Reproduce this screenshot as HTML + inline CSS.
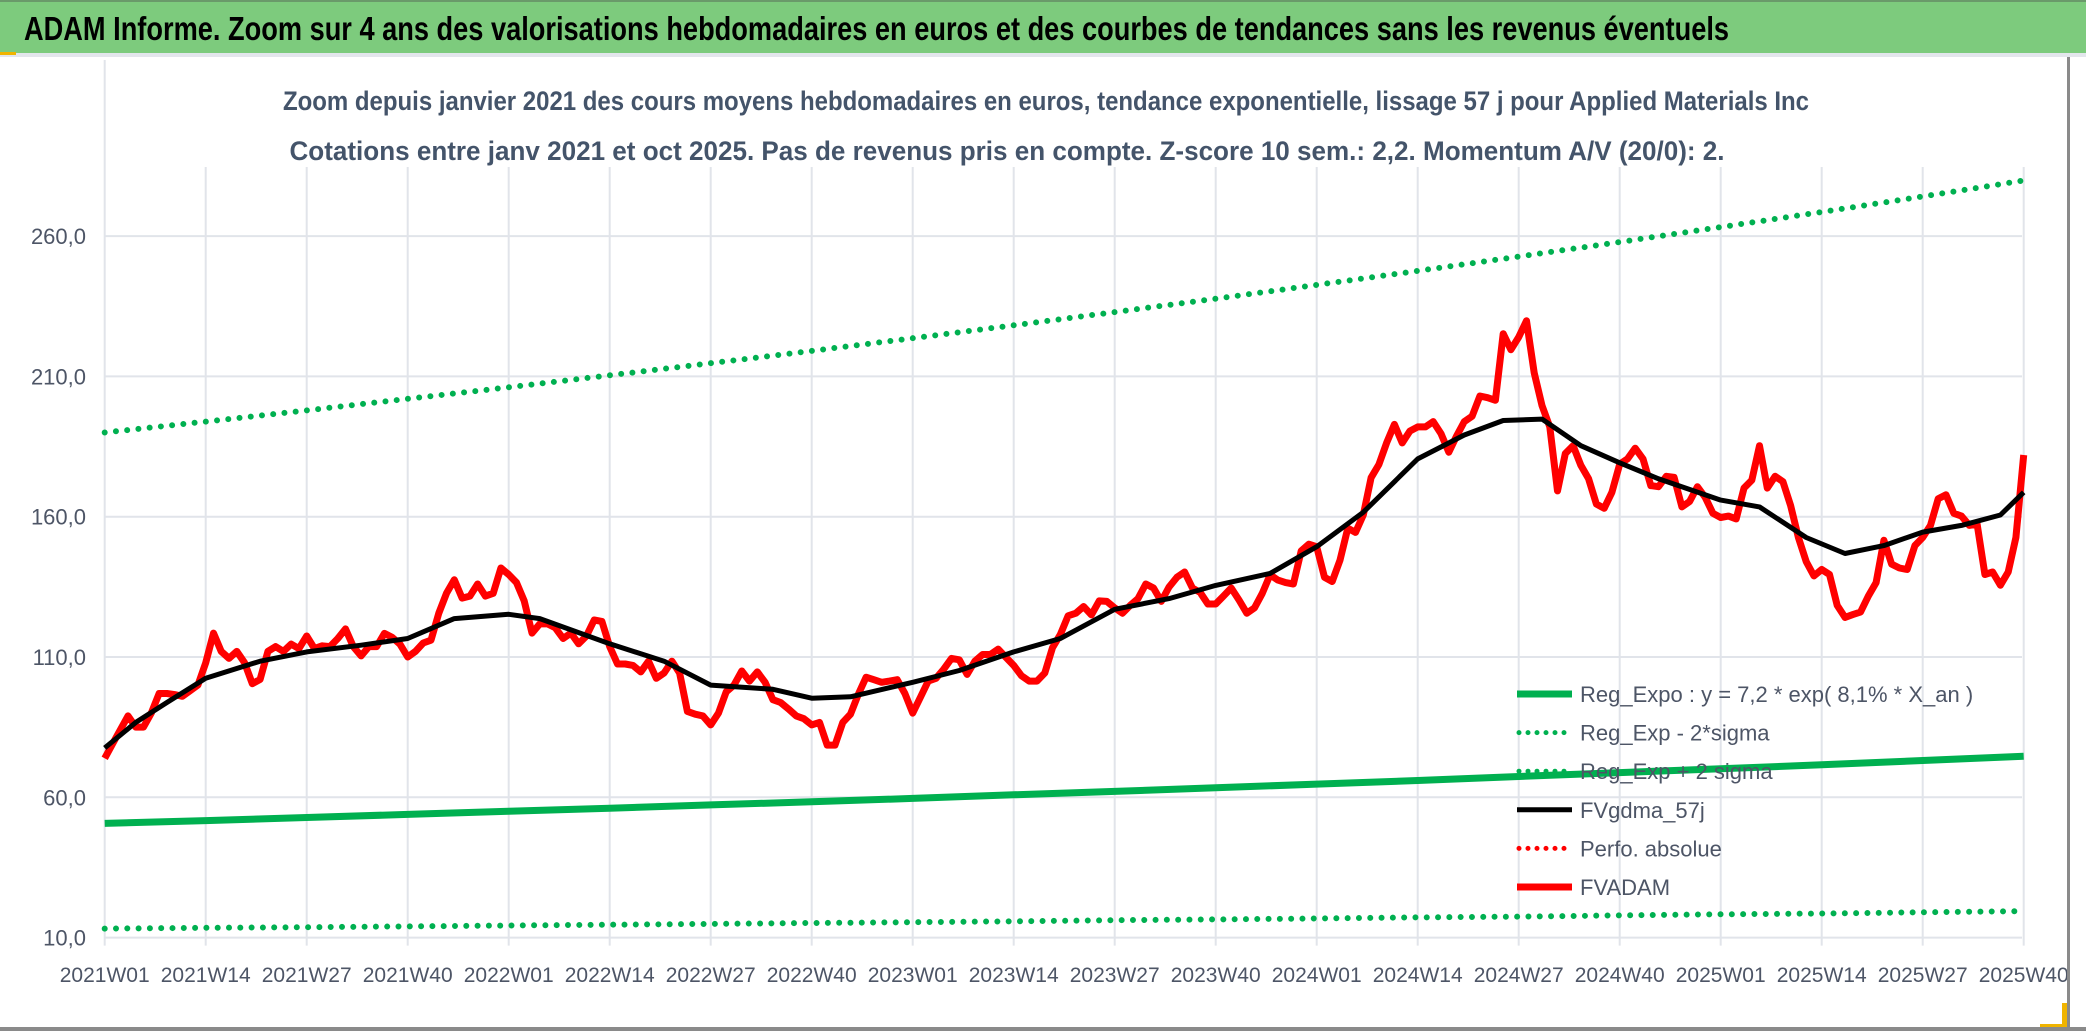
<!DOCTYPE html>
<html><head><meta charset="utf-8"><style>
html,body{margin:0;padding:0;background:#fff;}
body{width:2086px;height:1031px;overflow:hidden;position:relative;font-family:"Liberation Sans",sans-serif;}
svg{position:absolute;left:0;top:0;}
</style></head><body>
<svg id="chart" width="2086" height="1031" xmlns="http://www.w3.org/2000/svg">
<rect x="0" y="0" width="2086" height="1031" fill="#fff"/>
<rect x="0" y="0" width="2086" height="53" fill="#7dcb7d"/>
<rect x="0" y="0" width="2086" height="2" fill="#6a9a6a"/>
<rect x="0" y="53" width="2086" height="4" fill="#e3e6ec"/>
<rect x="0" y="52" width="16" height="3" fill="#f0b400"/>
<text x="24" y="40" font-size="33" font-weight="bold" fill="#000" textLength="1705" lengthAdjust="spacingAndGlyphs">ADAM Informe. Zoom sur 4 ans des valorisations hebdomadaires en euros et des courbes de tendances sans les revenus éventuels</text>
<text x="1046" y="110" text-anchor="middle" font-size="27" font-weight="bold" fill="#44546a" textLength="1526" lengthAdjust="spacingAndGlyphs">Zoom depuis janvier 2021 des cours moyens hebdomadaires en euros, tendance exponentielle, lissage 57 j pour Applied Materials Inc</text>
<text x="1007" y="160" text-anchor="middle" font-size="27" font-weight="bold" fill="#44546a" textLength="1435" lengthAdjust="spacingAndGlyphs">Cotations entre janv 2021 et oct 2025. Pas de revenus pris en compte. Z-score 10 sem.: 2,2. Momentum A/V (20/0): 2.</text>
<g id="grid"></g>
<g id="series"></g>
<g id="legend"></g>
<rect x="2062" y="1003" width="5" height="24" fill="#f0b400"/>
<rect x="2040" y="1024" width="27" height="4" fill="#f0b400"/>
<rect x="0" y="1027" width="2086" height="4" fill="#8a8a8a"/>
<rect x="2067" y="57" width="3" height="972" fill="#8a8a8a"/>
</svg>
<script>
const tickLabels=["2021W01","2021W14","2021W27","2021W40","2022W01","2022W14","2022W27","2022W40","2023W01","2023W14","2023W27","2023W40","2024W01","2024W14","2024W27","2024W40","2025W01","2025W14","2025W27","2025W40"];
const yTicks=[10,60,110,160,210,260];
const regExpo=[50.7,51.7,52.8,53.9,55.0,56.1,57.3,58.4,59.6,60.9,62.1,63.4,64.7,66.0,67.4,68.8,70.2,71.6,73.1,74.6];
const regUpper=[190,193.9,197.9,202,206.1,210.4,214.7,219.1,223.6,228.2,232.9,237.7,242.6,247.6,252.7,257.9,263.2,268.6,274.1,279.8];
const regLower=[13.2,13.5,13.7,14.0,14.3,14.6,14.9,15.2,15.5,15.8,16.2,16.5,16.8,17.2,17.5,17.9,18.3,18.6,19.0,19.4];
const fvadam=[73.9,79,84,89,85,85,90,97,97,96.6,96,98,100,107.9,118.5,112,109.5,112,108,100.5,102,112,113.7,112,114.6,113,117.5,113,114,113.7,116.6,120,113.7,110.4,113.7,113.7,118.4,117,114.6,110,112,115,116,125.6,132.7,137.5,131,131.7,136,131.7,132.7,141.7,139.4,136.5,130,118.5,121.8,121.8,120.4,116.6,118.5,114.7,117.5,123.2,122.7,113.7,107.5,107.5,107,104.7,108.5,102.4,104.3,108.5,104.3,90.6,89.6,89,85.8,90,97.6,100,105,101.4,104.7,101,94.8,93.8,91.5,89,88,85.8,86.7,78.6,78.6,86.7,89.6,96.7,102.8,101.9,101,101.4,101.9,97,90,95.7,101.4,102.4,105.7,109.5,109,103.8,108.5,110.9,110.9,112.8,109.9,107,103.3,101.4,101.4,104.3,113.3,118,124.7,125.6,128,125,130,129.8,127.5,125.6,128.4,130.8,136,134.6,129.8,135,138.4,140.3,134.6,133,128.9,128.9,131.7,134.6,130.3,125.6,127.5,132.7,139.3,137.4,136.5,136,147.8,150.2,149.3,138.4,136.9,144.5,155.9,154.4,160.6,173.9,178.6,186.3,192.9,186.3,190.5,192,192,193.9,189.6,183,188.7,193.9,195.8,203,202.4,201.5,225.2,219.5,224,229.8,211.3,199.6,192,169.2,182.5,185.3,178.3,173.5,164.5,163,168.7,178.7,180.6,184.4,180.6,171.1,170.7,174.4,174,163.5,165.4,170.7,166.9,161.2,159.7,160.2,159.2,170.2,173,185.3,170.2,174.4,172.5,164,152.6,144,138.9,141.2,139.4,128.4,124.1,125.1,126,131.7,136.5,151.6,143.1,141.7,141.2,149.7,152.6,156.9,166.4,167.8,161.2,160.2,156.9,157.4,139.4,140.3,135.6,140.3,152.6,182];
const fvWeeks=[0,4,8,13,20,26,33,39,45,52,56,65,72,78,86,91,96,104,110,117,123,130,137,143,150,156,162,169,175,180,185,190,195,200,208,213,219,224,229,234,239,244,247];
const fvgdma=[77.6,86.7,93.8,102.4,108.5,111.8,114.2,116.6,123.7,125.2,123.7,114.7,108.5,100,98.5,95.3,95.8,101,105.2,111.8,116.6,127,130.8,135.5,139.8,149.3,161.6,180.6,189.1,194.3,194.8,185.3,179.2,173.5,165.9,163.5,152.6,146.9,149.7,154.5,156.9,160.6,168.7];

const X0=104.7, PXW=101/13, Y10=937.6, PXU=2.806;
function xw(w){return X0+w*PXW;}
function xt(k){return X0+k*101;}
function yv(v){return Y10-(v-10)*PXU;}
const NS="http://www.w3.org/2000/svg";
function mk(tag,attrs,parent){const e=document.createElementNS(NS,tag);for(const k in attrs)e.setAttribute(k,attrs[k]);parent.appendChild(e);return e;}
const grid=document.getElementById('grid'), ser=document.getElementById('series'), leg=document.getElementById('legend');

yTicks.forEach(v=>{
  const l=mk('line',{x1:X0,x2:2022,y1:yv(v),y2:yv(v),stroke:'#e1e4ea','stroke-width':2},grid);
  
  
  const t=mk('text',{x:86,y:yv(v)+8,'text-anchor':'end','font-size':22,fill:'#4d5566'},grid);
  
  
  t.textContent=v.toFixed(1).replace('.',',');
});
tickLabels.forEach((s,k)=>{
  const l=mk('line',{x1:xt(k),x2:xt(k),y1:k===0?60:167,y2:Y10+8,stroke:'#e1e4ea','stroke-width':2},grid);
  
  
  const t=mk('text',{x:xt(k),y:982,'text-anchor':'middle','font-size':21,fill:'#4d5566'},grid);
  
  
  t.textContent=s;
});

function pts(xs,ys){return ys.map((v,i)=>xs(i).toFixed(1)+','+yv(v).toFixed(1)).join(' ');}
const dotted={fill:'none',stroke:'#00b050','stroke-width':6,'stroke-linecap':'round','stroke-dasharray':'0 11.3'};
let p;
p=mk('polyline',Object.assign({points:pts(xt,regUpper)},dotted),ser);


p=mk('polyline',Object.assign({points:pts(xt,regLower)},dotted),ser);


p=mk('polyline',{points:pts(xt,regExpo),fill:'none',stroke:'#00b050','stroke-width':7},ser);


p=mk('polyline',{points:pts(w=>xw(w),fvadam),fill:'none',stroke:'#ff0000','stroke-width':7,'stroke-linejoin':'round'},ser);


p=mk('polyline',{points:pts(i=>xw(fvWeeks[i]),fvgdma),fill:'none',stroke:'#000','stroke-width':5,'stroke-linejoin':'round'},ser);



const legendItems=[
 ["Reg_Expo : y = 7,2 * exp( 8,1% *  X_an )","#00b050",false,'legend-reg-expo'],
 ["Reg_Exp - 2*sigma","#00b050",true,'legend-reg-exp-minus'],
 ["Reg_Exp + 2 sigma","#00b050",true,'legend-reg-exp-plus'],
 ["FVgdma_57j","#000",false,'legend-fvgdma'],
 ["Perfo. absolue","#ff0000",true,'legend-perfo-absolue'],
 ["FVADAM","#ff0000",false,'legend-fvadam']];
legendItems.forEach((it,i)=>{
  const y=694+i*38.6;
  const g=mk('g',{},leg);
  
  
  if(it[2]) mk('line',{x1:1519,x2:1570,y1:y,y2:y,stroke:it[1],'stroke-width':5,'stroke-linecap':'round','stroke-dasharray':'0 9'},g);
  else mk('line',{x1:1517,x2:1572,y1:y,y2:y,stroke:it[1],'stroke-width':it[1]=='#000'?5:7},g);
  const t=mk('text',{x:1580,y:y+8,'font-size':22,fill:'#4d5566'},g);
  t.textContent=it[0];
});
</script>
</body></html>
